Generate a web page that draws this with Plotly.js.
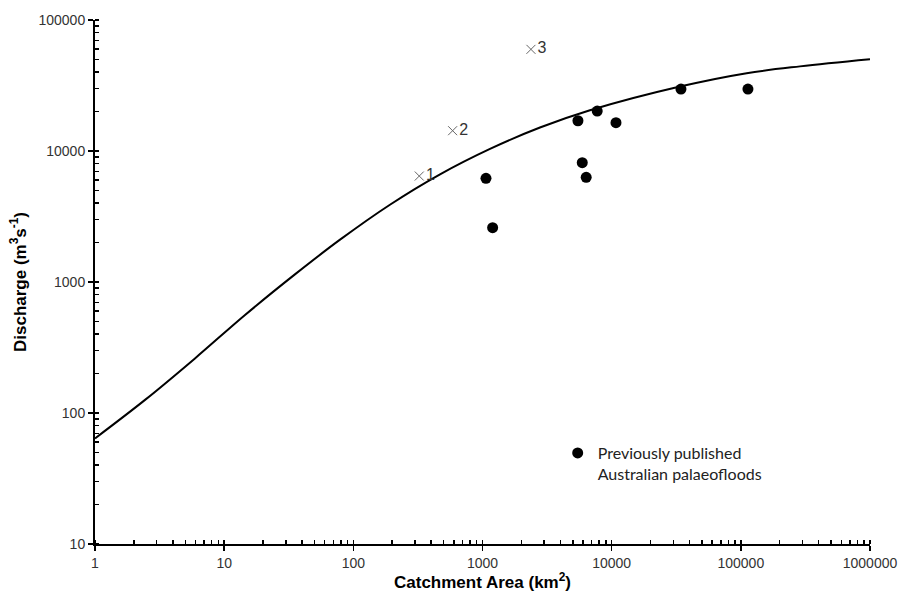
<!DOCTYPE html>
<html>
<head>
<meta charset="utf-8">
<script src="https://cdn.plot.ly/plotly-3.0.1.min.js"></script>
<style>html,body{margin:0;padding:0;background:#fff;}#chart{width:899px;height:592px;}</style>
</head>
<body>
<div id="chart"></div>
<script>
// Envelope curve (catchment area km², discharge m³/s)
const curveArea = [1, 2.44, 5.94, 14.5, 35.3, 78.9, 192, 469, 1143, 2786, 6792, 33800, 110900, 287000, 1000000];
const curveQ    = [64, 125.9, 261, 560, 1143, 2104, 3890, 6637, 10380, 15100, 20460, 31050, 39260, 44260, 50100];

// Previously published Australian palaeofloods
const pubArea = [1064, 1198, 5480, 7730, 10800, 5920, 6350, 34400, 113500];
const pubQ    = [6190, 2600, 17020, 20180, 16440, 8150, 6300, 29700, 29700];

// Numbered sites
const siteArea   = [324, 587, 2372];
const siteQ      = [6440, 14290, 59700];
const siteLabels = ["1", "2", "3"];

const xTickVals = [1, 10, 100, 1000, 10000, 100000, 1000000];
const xTickText = ["1", "10", "100", "1000", "10000", "100000", "1000000"];
const yTickVals = [10, 100, 1000, 10000, 100000];
const yTickText = ["10", "100", "1000", "10000", "100000"];

const traces = [
  {
    x: curveArea, y: curveQ, type: 'scatter', mode: 'lines',
    line: {color: '#000', width: 2, shape: 'spline', smoothing: 1},
    showlegend: false, hoverinfo: 'skip'
  },
  {
    x: pubArea, y: pubQ, type: 'scatter', mode: 'markers',
    name: 'Previously published<br>Australian palaeofloods',
    marker: {color: '#000', size: 11, symbol: 'circle'},
    hoverinfo: 'skip'
  },
  {
    x: siteArea, y: siteQ, type: 'scatter', mode: 'markers+text',
    text: siteLabels, textposition: 'middle right',
    textfont: {family: 'Liberation Sans, Arial, sans-serif', size: 16, color: '#333'},
    marker: {symbol: 'x-thin-open', size: 9, color: '#666', line: {width: 1, color: '#666'}},
    showlegend: false, hoverinfo: 'skip'
  }
];

const axisCommon = {
  type: 'log',
  showgrid: false, zeroline: false,
  showline: true, linecolor: '#000', linewidth: 2,
  ticks: 'outside', ticklen: 5, tickwidth: 1.5, tickcolor: '#000',
  tickmode: 'array',
  tickfont: {family: 'Liberation Sans, Arial, sans-serif', size: 14, color: '#333'},
  minor: {ticks: 'inside', ticklen: 4, tickwidth: 1.5, tickcolor: '#000', dtick: 'D1', showgrid: false}
};

const titleFont = {family: 'Liberation Sans Narrow, Liberation Sans, Arial, sans-serif', size: 17, color: '#000', weight: 'bold'};

const layout = {
  width: 899, height: 592,
  margin: {l: 95, r: 29, t: 20, b: 48},
  paper_bgcolor: '#fff', plot_bgcolor: '#fff',
  xaxis: Object.assign({}, axisCommon, {
    range: [0, 6],
    tickvals: xTickVals, ticktext: xTickText,
    title: {text: 'Catchment Area (km<sup>2</sup>)', standoff: 3, font: titleFont}
  }),
  yaxis: Object.assign({}, axisCommon, {
    range: [1, 5],
    tickvals: yTickVals, ticktext: yTickText,
    title: {text: 'Discharge (m<sup>3</sup>s<sup>-1</sup>)', standoff: 8, font: titleFont}
  }),
  showlegend: true,
  legend: {
    x: 0.597, y: 0.206, xanchor: 'left', yanchor: 'top',
    bgcolor: 'rgba(0,0,0,0)', borderwidth: 0,
    valign: 'top', itemwidth: 30,
    font: {family: 'Lato, Open Sans, sans-serif', size: 16, color: '#222'}
  },
  hovermode: false
};

Plotly.newPlot('chart', traces, layout, {displayModeBar: false, staticPlot: true});
</script>
</body>
</html>
